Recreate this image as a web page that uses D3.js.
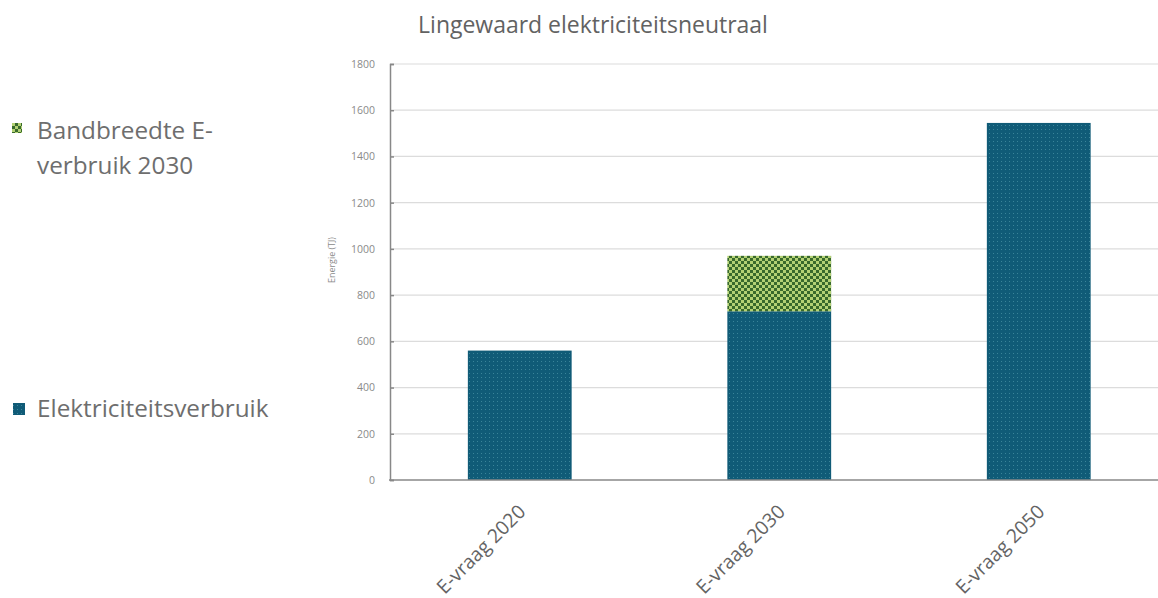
<!DOCTYPE html>
<html><head><meta charset="utf-8">
<script src="https://cdn.jsdelivr.net/npm/d3@7/dist/d3.min.js"></script>
<style>html,body{margin:0;padding:0;background:#fff;overflow:hidden}</style>
</head><body>
<svg id="c" width="1158" height="598"></svg>
<script>
const categories = ["E-vraag 2020", "E-vraag 2030", "E-vraag 2050"];
const verbruik = [560, 730, 1545];
const bandbreedte = [0, 240, 0];
const yTicks = [0, 200, 400, 600, 800, 1000, 1200, 1400, 1600, 1800];
const titleText = "Lingewaard elektriciteitsneutraal";
const yTitle = "Energie (TJ)";
const legendBand = ["Bandbreedte E-", "verbruik 2030"];
const legendVerbruik = "Elektriciteitsverbruik";

const W = 1158, H = 598;
const FONT = "'Open Sans', 'Noto Sans', sans-serif";
const svg = d3.select("#c");
const defs = svg.append("defs");

// patterns
const pb = defs.append("pattern").attr("id","pBlue").attr("patternUnits","userSpaceOnUse").attr("width",4).attr("height",4);
pb.append("rect").attr("width",4).attr("height",4).attr("fill","#105b77");
pb.append("rect").attr("x",1).attr("y",1).attr("width",1).attr("height",1).attr("fill","#3a8499");
const pg = defs.append("pattern").attr("id","pGreen").attr("patternUnits","userSpaceOnUse").attr("width",6).attr("height",6);
pg.append("rect").attr("width",6).attr("height",6).attr("fill","#b3d174");
pg.append("rect").attr("x",0).attr("y",0).attr("width",3).attr("height",3).attr("fill","#396a2c");
pg.append("rect").attr("x",3).attr("y",3).attr("width",3).attr("height",3).attr("fill","#396a2c");

const y = d3.scaleLinear().domain([0, 1800]).range([480, 64]);
const x = d3.scaleBand().domain(categories).range([390, 1168.5]).paddingInner(0.6).paddingOuter(0.3);

function fit(sel, target){
  const n = sel.node(); const fs = parseFloat(sel.attr("font-size"));
  const len = n.getComputedTextLength();
  const nf = fs * target / len; sel.attr("font-size", nf); return nf;
}

// gridlines
svg.append("g").selectAll("line").data(yTicks.filter(d=>d>0)).join("line")
  .attr("x1",390).attr("x2",W).attr("y1",d=>y(d)).attr("y2",d=>y(d))
  .attr("stroke","#dcdcdc").attr("stroke-width",1.2);

// y axis
const yAxis = svg.append("g").attr("transform","translate(390,0)")
  .call(d3.axisLeft(y).tickValues(yTicks).tickSize(-4).tickPadding(15).tickFormat(d3.format("d")));
yAxis.select(".domain").attr("stroke","#888").attr("stroke-width",1.5);
yAxis.selectAll(".tick line").attr("stroke","#888").attr("stroke-width",1.5);
yAxis.selectAll(".tick text").attr("fill","#8a8a8a").attr("font-family",FONT).attr("font-size",10.5);

// axis title
const yt = svg.append("text").attr("transform","translate(335,260) rotate(-90)")
  .attr("text-anchor","middle").attr("fill","#8a8a8a").attr("font-family",FONT).attr("font-size",9)
  .text(yTitle);
fit(yt, 46);

// bars
svg.append("g").selectAll("rect").data(categories).join("rect")
  .attr("x",d=>x(d)).attr("width",x.bandwidth())
  .attr("y",(d,i)=>y(verbruik[i])).attr("height",(d,i)=>y(0)-y(verbruik[i]))
  .attr("fill","url(#pBlue)");
svg.append("g").selectAll("rect").data(categories.filter((d,i)=>bandbreedte[i]>0)).join("rect")
  .attr("x",d=>x(d)).attr("width",x.bandwidth())
  .attr("y",d=>{const i=categories.indexOf(d);return y(verbruik[i]+bandbreedte[i]);})
  .attr("height",d=>{const i=categories.indexOf(d);return y(verbruik[i])-y(verbruik[i]+bandbreedte[i]);})
  .attr("fill","url(#pGreen)");

// x axis
const xAxis = svg.append("g").attr("transform","translate(0,480)")
  .call(d3.axisBottom(x).tickSize(0).tickPadding(0));
xAxis.select(".domain").remove();
svg.append("line").attr("x1",389).attr("x2",W).attr("y1",480).attr("y2",480).attr("stroke","#888").attr("stroke-width",1.5);
let xfs = null;
xAxis.selectAll(".tick text")
  .attr("fill","#646464").attr("font-family",FONT).attr("font-size",16)
  .attr("text-anchor","end").attr("dy",0).attr("y",0)
  .attr("transform","translate(7,33) rotate(-45)")
  .each(function(d,i){ if(i===0){ xfs = fit(d3.select(this),116);} else d3.select(this).attr("font-size",xfs); });

// title
const t = svg.append("text").attr("x",593).attr("y",33).attr("text-anchor","middle")
  .attr("fill","#626262").attr("font-family",FONT).attr("font-size",18).text(titleText);
fit(t, 350);

// legend
svg.append("rect").attr("x",12).attr("y",123).attr("width",10).attr("height",10).attr("fill","url(#pGreen)");
const l1 = svg.append("text").attr("x",37).attr("y",139).attr("fill","#6e6e6e").attr("font-family",FONT).attr("font-size",22).text(legendBand[0]);
const lfs = fit(l1, 176);
svg.append("text").attr("x",37).attr("y",174).attr("fill","#6e6e6e").attr("font-family",FONT).attr("font-size",lfs).text(legendBand[1]);
svg.append("rect").attr("x",13).attr("y",403).attr("width",12).attr("height",12).attr("fill","url(#pBlue)");
svg.append("text").attr("x",37).attr("y",417).attr("fill","#6e6e6e").attr("font-family",FONT).attr("font-size",lfs).text(legendVerbruik);
</script>
</body></html>
